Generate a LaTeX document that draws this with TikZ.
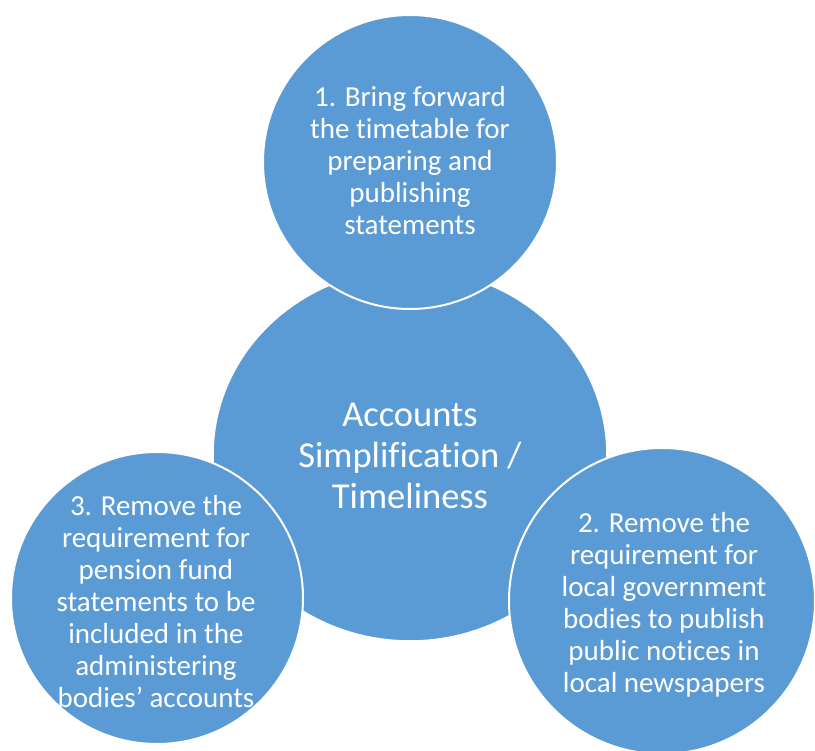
\documentclass[tikz,border=0pt]{standalone}
\usepackage{fontspec}
\setmainfont[Ligatures=NoCommon]{Carlito}
\usetikzlibrary{shapes.geometric}
\definecolor{petal}{RGB}{91,155,213}
\begin{document}
\begin{tikzpicture}[x=1pt,y=-1pt,
  hubshape/.style={ellipse, fill=petal, draw=white, line width=1.5pt,
    inner sep=0pt, minimum width=394pt, minimum height=372pt},
  petalshape/.style={circle, fill=petal, draw=white, line width=2pt,
    inner sep=0pt, minimum size=#1},
  hubtext/.style={text=white, align=center, inner sep=0pt,
    font=\fontsize{36.5}{41}\selectfont},
  petaltext/.style={text=white, align=center, inner sep=0pt,
    font=\fontsize{29}{32}\selectfont}]
  \useasboundingbox (0,0) rectangle (815,751);

  % central hub
  \node[hubshape] (hub) at (410,455) {};
  % the three surrounding circles, drawn over the hub
  \node[petalshape=294pt] (top) at (410,162) {};
  \node[petalshape=306pt] (right) at (662,601) {};
  \node[petalshape=292pt] (left) at (157,598) {};

  % labels
  \node[hubtext] (hubt) at (410,456) {Accounts\\Simplification /\\Timeliness};
  \node[petaltext] (topt) at (410,161) {1. Bring forward\\the timetable for\\preparing and\\publishing\\statements};
  \node[petaltext] (rightt) at (664,605) {2. Remove the\\requirement for\\local government\\bodies to publish\\public notices in\\local newspapers};
  \node[petaltext] (leftt) at (156,602) {3. Remove the\\requirement for\\pension fund\\statements to be\\included in the\\administering\\bodies’ accounts};
\end{tikzpicture}
\end{document}
